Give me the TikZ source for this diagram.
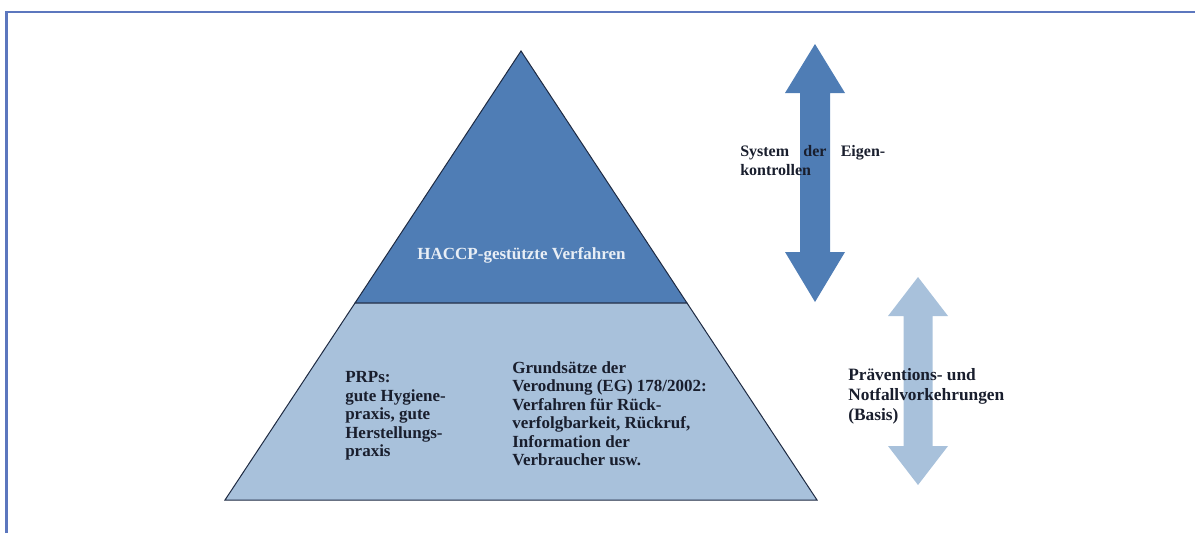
\documentclass[tikz,border=0pt]{standalone}
\usepackage{fontspec}
\setmainfont{Liberation Serif}
\usetikzlibrary{arrows}

\begin{document}
\begin{tikzpicture}[x=0.75pt,y=0.75pt,yscale=-1,xscale=1,
  upper/.style={fill={rgb, 255:red, 79; green, 125; blue, 181}},
  lower/.style={fill={rgb, 255:red, 168; green, 193; blue, 219}},
  outline/.style={draw={rgb, 255:red, 30; green, 42; blue, 66}, line width=0.75pt},
  frameline/.style={draw={rgb, 255:red, 92; green, 119; blue, 190}, line width=1.6pt},
  txt/.style={font=\bfseries\fontsize{12.75}{13.9}\selectfont, text={rgb, 255:red, 25; green, 30; blue, 45}, inner sep=0pt, align=left, anchor=base west}]
\useasboundingbox (0,0) rectangle (1195,533);

%Frame
\draw[frameline] (6.5,533) -- (6.5,12) -- (1195,12);

%Shape: Triangle, upper part
\coordinate (apex) at (521,51);
\coordinate (sl) at (355,303);
\coordinate (sr) at (687,303);
\coordinate (bl) at (225,500);
\coordinate (br) at (817,500);
\draw[upper, outline] (apex) -- (sr) -- (sl) -- cycle;
%Shape: Trapezoid, base part
\draw[lower, outline] (sl) -- (sr) -- (br) -- (bl) -- cycle;

%Shape: Up-Down Arrow (dark)
\fill[upper] (815,44) -- (845,93) -- (830,93) -- (830,252) -- (845,252) -- (815,302) -- (785,252) -- (800,252) -- (800,93) -- (785,93) -- cycle;
%Shape: Up-Down Arrow (light)
\fill[lower] (918,277) -- (948,316) -- (932.5,316) -- (932.5,446) -- (948,446) -- (918,485) -- (888,446) -- (903.5,446) -- (903.5,316) -- (888,316) -- cycle;

% Text Node (anchored at the baseline of the last line)
\node[txt, anchor=base, text={rgb, 255:red, 232; green, 238; blue, 245}] (haccp) at (521.5,259) {HACCP-gestützte Verfahren};
% Text Node
\node[txt] (prps) at (345,456.7) {PRPs:\\gute Hygiene-\\praxis, gute\\Herstellungs-\\praxis};
% Text Node
\node[txt] (grundsaetze) at (512,465.7) {Grundsätze der\\Verodnung (EG) 178/2002:\\Verfahren für Rück-\\verfolgbarkeit, Rückruf,\\Information der\\Verbraucher usw.};
% Text Node
\node[txt, font=\bfseries\fontsize{12}{14.25}\selectfont] (eigen) at (740,175) {\makebox[108.75pt][s]{System der Eigen-}\\kontrollen};
% Text Node
\node[txt, font=\bfseries\fontsize{13}{15}\selectfont] (praevention) at (848,420.7) {Präventions- und\\Notfallvorkehrungen\\(Basis)};

\end{tikzpicture}
\end{document}
